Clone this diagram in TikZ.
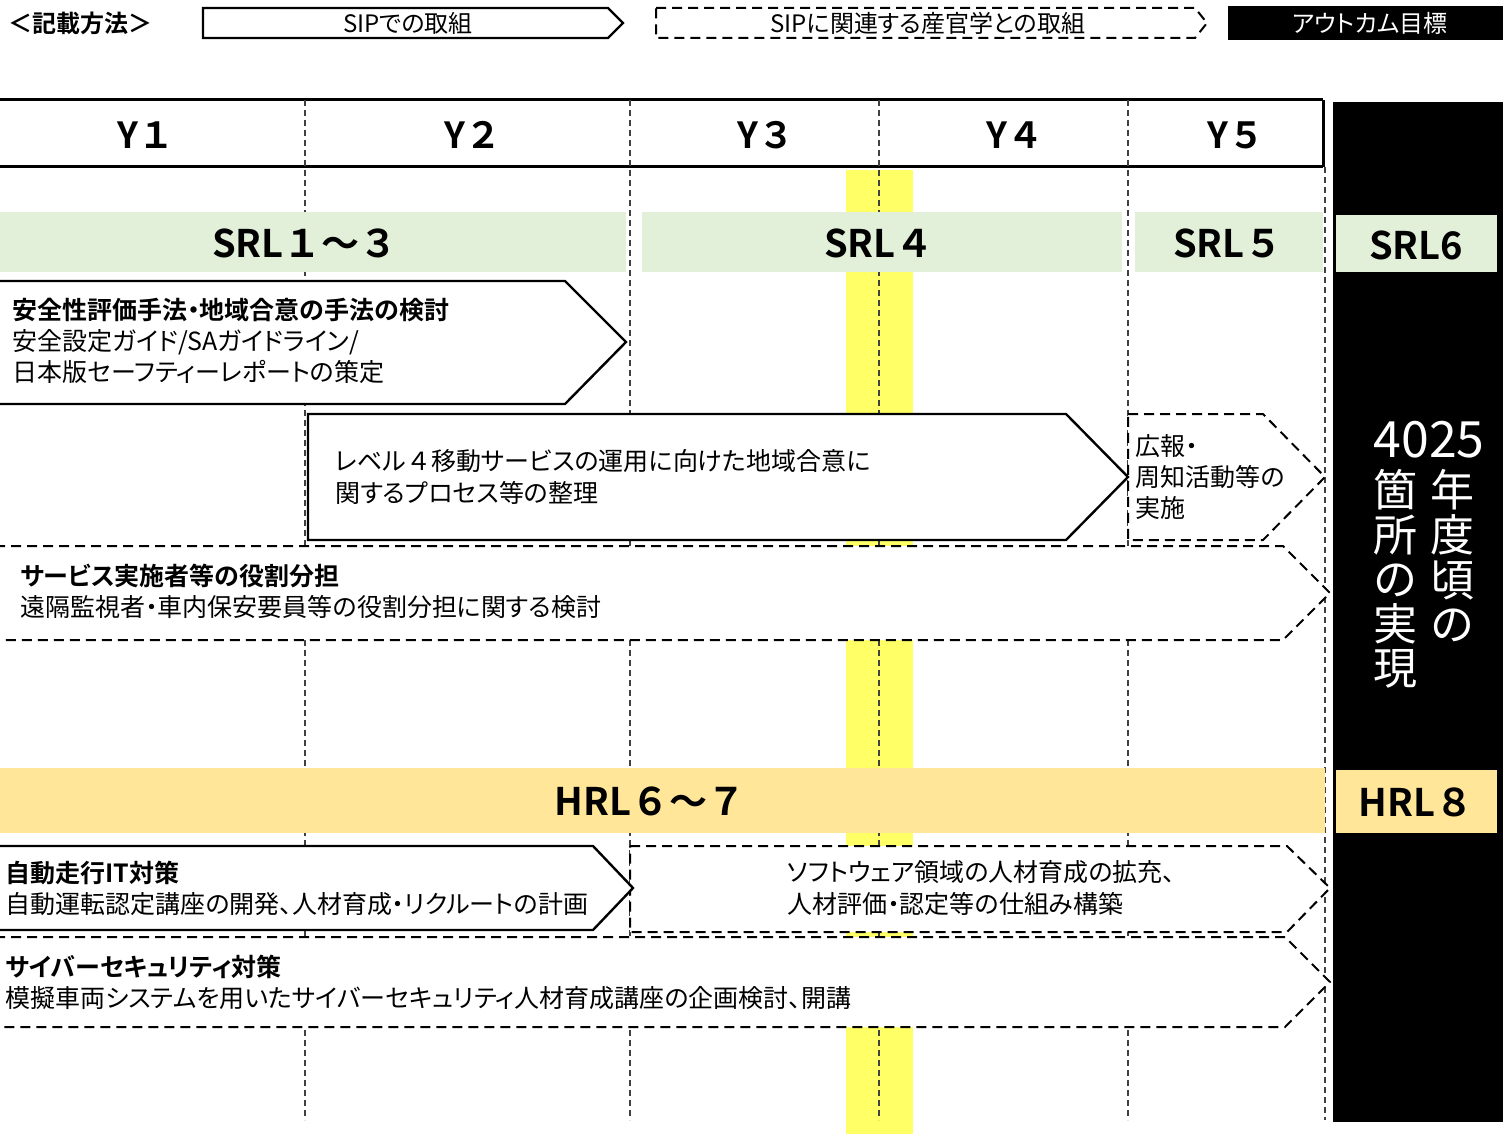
\documentclass[tikz,border=0pt]{standalone}
\usepackage{fontspec}
\setmainfont{Noto Sans CJK JP}[BoldFont={Noto Sans CJK JP Bold},RawFeature=+palt]
\newfontfamily\labelfont{Noto Sans CJK JP}[BoldFont={Noto Sans CJK JP Bold}]
\definecolor{bandyellow}{HTML}{FFFF66}
\definecolor{srlgreen}{HTML}{E2F0D9}
\definecolor{hrlorange}{HTML}{FFE699}
\begin{document}
\begin{tikzpicture}[x=0.5pt,y=-0.5pt,
  colline/.style={draw=black!75, line width=0.6pt, dash pattern=on 3pt off 2pt},
  solidarrow/.style={draw=black, line width=1.2pt, fill=white, line join=miter},
  dasharrow/.style={draw=black, line width=1pt, fill=white, dash pattern=on 5pt off 3pt},
  bodytext/.style={font=\fontsize{12.5}{15.6}\selectfont, align=left, inner sep=0pt, anchor=west},
  yearlabel/.style={font=\labelfont\fontsize{18}{20}\selectfont\bfseries, inner sep=0pt},
  levellabel/.style={font=\labelfont\fontsize{19}{22}\selectfont\bfseries, inner sep=0pt},
  legendtext/.style={font=\fontsize{12}{14}\selectfont, inner sep=0pt},
  verttext/.style={font=\labelfont\fontsize{22}{22.3}\selectfont, text=white, align=center, inner sep=0pt}
]
\useasboundingbox (0,0) rectangle (1503,1134);

% legend
\node[font=\labelfont\fontsize{12}{14}\selectfont\bfseries, inner sep=0pt, anchor=west] (legtitle) at (8,23) {＜記載方法＞};
\draw[solidarrow] (203,8) -- (608,8) -- (623,23) -- (608,38) -- (203,38) -- cycle;
\node[legendtext] (legsip) at (408,23) {SIPでの取組};
\draw[dasharrow] (656,8) -- (1195,8) -- (1207,23) -- (1195,38) -- (656,38) -- cycle;
\node[legendtext] (legrel) at (928,23) {SIPに関連する産官学との取組};
\fill[black] (1228,6) rectangle (1503,40);
\node[legendtext, text=white] (legout) at (1370,23) {アウトカム目標};

% yellow band
\fill[bandyellow] (846,170) rectangle (913,1134);

% header
\draw[line width=1.5pt] (0,100) -- (1323,100);
\draw[line width=1.5pt] (0,167) -- (1323,167);
\draw[line width=1.5pt] (1323,100) -- (1323,167);

% column lines
\foreach \cx in {305,630,879,1128} {
  \draw[colline] (\cx,100) -- (\cx,1120);
}
\draw[colline] (1325,167) -- (1325,1120);

\node[yearlabel] (y1) at (146,135) {Y１};
\node[yearlabel] (y2) at (473,135) {Y２};
\node[yearlabel] (y3) at (766,135) {Y３};
\node[yearlabel] (y4) at (1015,135) {Y４};
\node[yearlabel] (y5) at (1236,135) {Y５};

% SRL bands
\fill[srlgreen] (0,212) rectangle (626,272);
\fill[srlgreen] (642,212) rectangle (1122,272);
\fill[srlgreen] (1135,212) rectangle (1323,272);
\node[levellabel] (srl13) at (305,243) {SRL１～３};
\node[levellabel] (srl4) at (879,243) {SRL４};
\node[levellabel] (srl5) at (1228,243) {SRL５};

% HRL band
\fill[hrlorange] (0,768) rectangle (1325,833);
\node[levellabel] (hrl67) at (650,801) {HRL６～７};

% outcome column
\fill[black] (1333,102) rectangle (1503,1122);
\fill[srlgreen] (1336,215) rectangle (1497,272);
\node[levellabel] (srl6) at (1416,245) {SRL6};
\fill[hrlorange] (1336,770) rectangle (1497,833);
\node[levellabel] (hrl8) at (1416,802) {HRL８};
\node[font=\labelfont\fontsize{25}{26}\selectfont, text=white, inner sep=0pt] (year) at (1429,440) {4025};
\node[verttext] (vleft) at (1395,579) {箇\\所\\の\\実\\現};
\node[verttext] (vright) at (1452,556) {年\\度\\頃\\の};

% arrows
\draw[solidarrow] (-5,281) -- (565,281) -- (626,342) -- (565,404) -- (-5,404) -- cycle;
\node[bodytext] (ta) at (12,341) {{\bfseries 安全性評価手法・地域合意の手法の検討}\\安全設定ガイド/SAガイドライン/\\日本版セーフティーレポートの策定};

\draw[dasharrow] (1128,414) -- (1263,414) -- (1325,477) -- (1263,540) -- (1128,540) -- cycle;
\draw[solidarrow] (308,414) -- (1066,414) -- (1128,477) -- (1066,540) -- (308,540) -- cycle;
\node[bodytext] (tb) at (335,477) {レベル{\labelfont ４}移動サービスの運用に向けた地域合意に\\関するプロセス等の整理};
\node[bodytext] (tc) at (1135,477) {広報・\\周知活動等の\\実施};

\draw[dasharrow] (-5,546) -- (1283,546) -- (1330,593) -- (1283,640) -- (-5,640) -- cycle;
\node[bodytext] (td) at (20,591) {{\bfseries サービス実施者等の役割分担}\\遠隔監視者・車内保安要員等の役割分担に関する検討};

\draw[dasharrow] (630,846) -- (1287,846) -- (1330,888) -- (1287,932) -- (630,932) -- cycle;
\draw[solidarrow] (-5,846) -- (593,846) -- (633,888) -- (593,930) -- (-5,930) -- cycle;
\node[bodytext] (te) at (5,888) {{\bfseries 自動走行IT対策}\\自動運転認定講座の開発、人材育成・リクルートの計画};
\node[bodytext] (tf) at (787,888) {ソフトウェア領域の人材育成の拡充、\\人材評価・認定等の仕組み構築};

\draw[dasharrow] (-5,937) -- (1285,937) -- (1330,982) -- (1285,1027) -- (-5,1027) -- cycle;
\node[bodytext] (tg) at (5,982) {{\bfseries サイバーセキュリティ対策}\\模擬車両システムを用いたサイバーセキュリティ人材育成講座の企画検討、開講};
\end{tikzpicture}
\end{document}
